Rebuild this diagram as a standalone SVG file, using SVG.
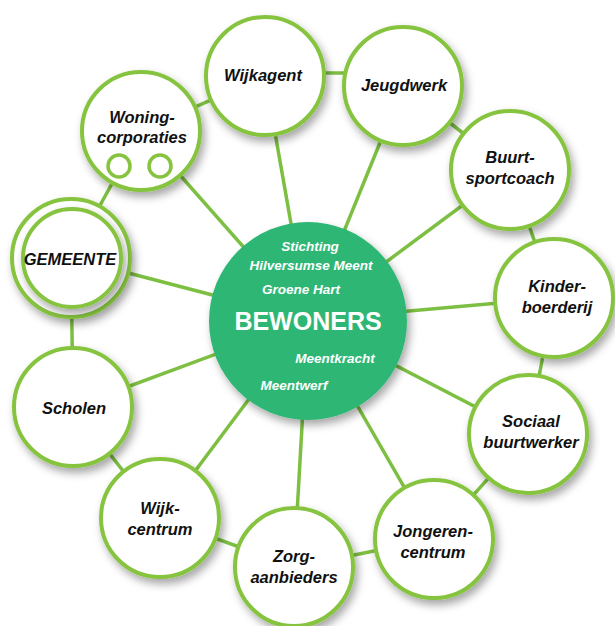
<svg xmlns="http://www.w3.org/2000/svg" width="615" height="626" viewBox="0 0 615 626">
<defs>
<filter id="sh" x="-30%" y="-30%" width="160%" height="160%">
<feDropShadow dx="3" dy="5" stdDeviation="4" flood-color="#000" flood-opacity="0.35"/>
</filter>
<style>
.node{fill:#fff;stroke:#86c440;stroke-width:4;filter:url(#sh)}
.small{fill:#fff;stroke:#86c440;stroke-width:3.5}
.lbl{font-family:"Liberation Sans",Arial,sans-serif;font-weight:bold;font-style:italic;font-size:16.5px;fill:#111;text-anchor:middle}
.in{font-family:"Liberation Sans",Arial,sans-serif;font-weight:bold;font-style:italic;font-size:13.5px;fill:#fff;text-anchor:middle}
.big{font-family:"Liberation Sans",Arial,sans-serif;font-weight:bold;font-size:25px;fill:#fff;text-anchor:middle}
#connectors line{stroke:#7dbf42;stroke-width:3.5}
</style>
</defs>
<rect width="615" height="626" fill="#fff"/>
<g id="connectors">
<line x1="308" y1="320" x2="265" y2="76"/>
<line x1="308" y1="320" x2="403" y2="86"/>
<line x1="308" y1="320" x2="510" y2="170"/>
<line x1="308" y1="320" x2="554" y2="298"/>
<line x1="308" y1="320" x2="528" y2="434"/>
<line x1="308" y1="320" x2="434" y2="539"/>
<line x1="308" y1="320" x2="294" y2="567"/>
<line x1="308" y1="320" x2="160" y2="518"/>
<line x1="308" y1="320" x2="73" y2="407"/>
<line x1="308" y1="320" x2="71" y2="258"/>
<line x1="308" y1="320" x2="141" y2="131"/>
<line x1="141" y1="131" x2="265" y2="76"/>
<line x1="265" y1="73" x2="403" y2="73"/>
<line x1="403" y1="86" x2="510" y2="170"/>
<line x1="510" y1="170" x2="554" y2="298"/>
<line x1="554" y1="298" x2="528" y2="434"/>
<line x1="528" y1="434" x2="434" y2="539"/>
<line x1="434" y1="539" x2="294" y2="567"/>
<line x1="294" y1="567" x2="160" y2="518"/>
<line x1="160" y1="518" x2="73" y2="407"/>
<line x1="73" y1="407" x2="71" y2="258"/>
<line x1="71" y1="258" x2="141" y2="131"/>
</g>
<g id="bewoners">
<circle cx="308" cy="321" r="99" fill="#2db674" filter="url(#sh)"/>
<text class="in" x="310" y="251">Stichting</text>
<text class="in" x="311" y="270">Hilversumse Meent</text>
<text class="in" x="301" y="294">Groene Hart</text>
<text class="big" x="308" y="330">BEWONERS</text>
<text class="in" x="335" y="363">Meentkracht</text>
<text class="in" x="294" y="390">Meentwerf</text>
</g>
<g id="wijkagent">
<circle class="node" cx="265" cy="76" r="59"/>
<text class="lbl" x="263" y="81">Wijkagent</text>
</g>
<g id="jeugdwerk">
<circle class="node" cx="403" cy="86" r="59"/>
<text class="lbl" x="404" y="91">Jeugdwerk</text>
</g>
<g id="buurtsportcoach">
<circle class="node" cx="510" cy="170" r="59"/>
<text class="lbl" x="510" y="163">Buurt-</text>
<text class="lbl" x="510" y="184">sportcoach</text>
</g>
<g id="kinderboerderij">
<circle class="node" cx="554" cy="298" r="59"/>
<text class="lbl" x="557" y="292">Kinder-</text>
<text class="lbl" x="557" y="313">boerderij</text>
</g>
<g id="sociaal">
<circle class="node" cx="528" cy="434" r="59"/>
<text class="lbl" x="531" y="427">Sociaal</text>
<text class="lbl" x="531" y="448">buurtwerker</text>
</g>
<g id="jongerencentrum">
<circle class="node" cx="434" cy="539" r="59"/>
<text class="lbl" x="433" y="537">Jongeren-</text>
<text class="lbl" x="433" y="558">centrum</text>
</g>
<g id="zorgaanbieders">
<circle class="node" cx="294" cy="567" r="59"/>
<text class="lbl" x="294" y="562">Zorg-</text>
<text class="lbl" x="294" y="583">aanbieders</text>
</g>
<g id="wijkcentrum">
<circle class="node" cx="160" cy="518" r="59"/>
<text class="lbl" x="160" y="514">Wijk-</text>
<text class="lbl" x="160" y="535">centrum</text>
</g>
<g id="scholen">
<circle class="node" cx="73" cy="407" r="59"/>
<text class="lbl" x="74" y="414">Scholen</text>
</g>
<g id="gemeente">
<circle class="node" cx="71" cy="258" r="59"/>
<circle class="node" cx="72" cy="258" r="49"/>
<text class="lbl" x="70" y="265">GEMEENTE</text>
</g>
<g id="woningcorporaties">
<circle class="node" cx="141" cy="131" r="59"/>
<text class="lbl" x="142" y="123">Woning-</text>
<text class="lbl" x="142" y="143">corporaties</text>
<circle class="small" cx="119" cy="166" r="11"/>
<circle class="small" cx="160" cy="166" r="11"/>
</g>
</svg>
